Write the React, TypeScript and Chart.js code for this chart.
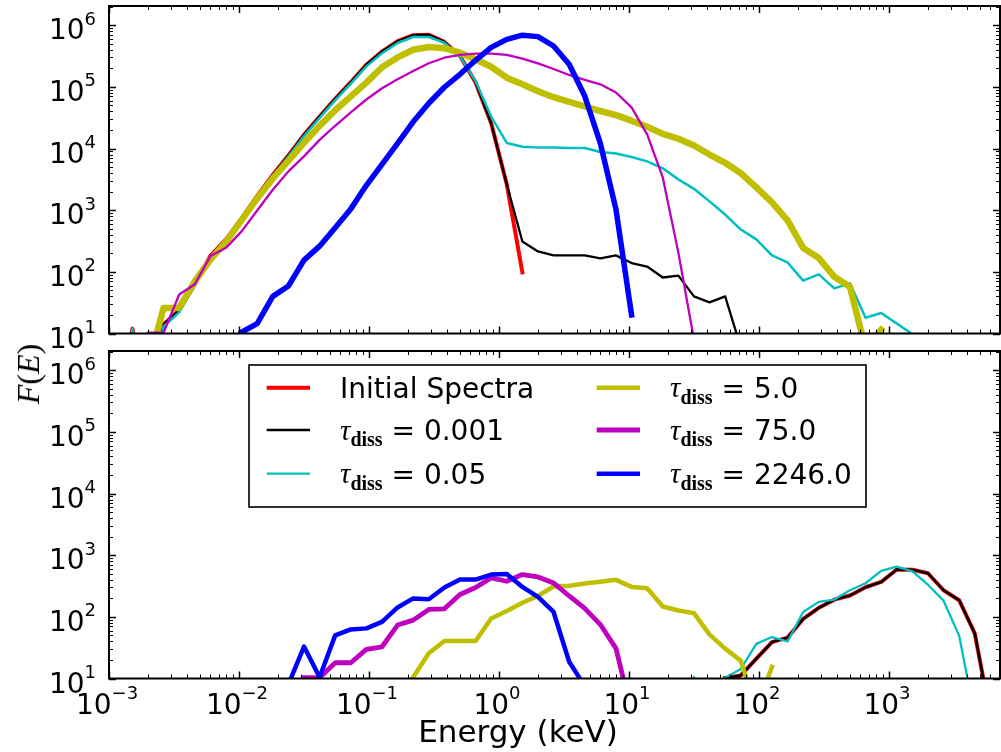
import React, { useEffect, useRef } from "react";
import { Chart, registerables } from "chart.js";

Chart.register(...registerables);

// Energy bins (keV), log-spaced grid
const ENERGY_KEV = [
  0.001148, 0.001514, 0.001995, 0.00263, 0.003467, 0.004571, 0.006026, 0.007943,
  0.01047, 0.0138, 0.0182, 0.02399, 0.03162, 0.04169, 0.05495, 0.07244, 0.0955,
  0.1259, 0.166, 0.2188, 0.2884, 0.3802, 0.5012, 0.6607, 0.871, 1.148, 1.514,
  1.995, 2.63, 3.467, 4.571, 6.026, 7.943, 10.47, 13.8, 18.2, 23.99, 31.62, 41.69,
  54.95, 72.44, 95.5, 125.9, 166.0, 218.8, 288.4, 380.2, 501.2, 660.7, 871.0,
  1148, 1514, 1995, 2630, 3467, 4571, 6026,
];

const _ = null;

// ---------- Upper panel ----------
const TOP_INITIAL = [
  0.5, 12, 0.5, 14, 24, 63, 182, 336, 736, 1706, 3740, 7740, 16700, 33000, 64000,
  119000, 229000, 374000, 550000, 690000, 700000, 537000, 317000, 118000, 25600,
  2630, 98, _, _, _, _, _, _, _, _, _, _, _, _, _, _, _, _, _, _, _, _, _, _, _, _,
  _, _, _, _, _, _,
];
const TOP_TAU_0001 = [
  0.5, 12, 0.5, 14, 24, 63, 182, 336, 736, 1706, 3740, 7740, 16700, 33000, 64000,
  119000, 229000, 374000, 550000, 690000, 700000, 537000, 317000, 118000, 25600,
  2630, 310, 214, 185, 185, 185, 165, 185, 139, 122, 81, 87, 40, 32, 40, 6, _, _, _,
  _, _, _, _, _, _, _, _, _, _, _, _, _,
];
const TOP_TAU_005 = [
  0.5, 12, 0.5, 13, 22, 60, 175, 325, 710, 1650, 3600, 7400, 16000, 31500, 61000,
  113000, 215000, 350000, 515000, 645000, 645000, 520000, 310000, 123000, 33000,
  12300, 10700, 10400, 10400, 10200, 10200, 8800, 8300, 7300, 6200, 4780, 3160,
  2220, 1390, 850, 486, 336, 185, 142, 72, 91, 54, 65, 18, 21.5, 14.5, 9.8, _, _, _,
  _, _,
];
const TOP_TAU_5 = [
  _, _, 3, 26, 26, 70, 158, 306, 690, 1550, 3280, 6300, 12400, 23300, 41700, 70000,
  117000, 208000, 300000, 400000, 444000, 424000, 358000, 281000, 212000, 141000,
  110000, 85000, 68000, 57000, 48400, 40600, 34800, 28300, 22500, 17300, 14400,
  11200, 8000, 5870, 3980, 2340, 1340, 682, 244, 168, 83, 57, 5.6, 11.5, _, _, _, _,
  _, _, _,
];
const TOP_TAU_75 = [
  _, _, 10.3, 10.3, 43, 63, 180, 245, 453, 990, 2140, 4260, 7470, 13800, 23400,
  38700, 62400, 94900, 133000, 181000, 242000, 297000, 330000, 347000, 347000,
  330000, 288000, 240000, 195000, 156000, 130000, 110000, 81000, 46500, 17000,
  3400, 205, 8, _, _, _, _, _, _, _, _, _, _, _, _, _, _, _, _, _, _, _,
];
const TOP_TAU_2246 = [
  _, _, _, _, _, _, _, _, 10.5, 14.5, 40, 59, 155, 261, 520, 1050, 2530, 5530, 12100,
  27100, 54200, 98600, 160000, 270000, 437000, 590000, 690000, 653000, 460000,
  233000, 71000, 12100, 1030, 20, _, _, _, _, _, _, _, _, _, _, _, _, _, _, _, _, _,
  _, _, _, _, _, _,
];

// ---------- Lower panel ----------
const BOT_INITIAL = [
  _, _, _, _, _, _, _, _, _, _, _, _, _, _, _, _, _, _, _, _, _, _, _, _, _, _, _, _,
  _, _, _, _, _, _, _, _, _, _, _, 10.2, 11.2, 21, 39, 46, 92.5, 140, 190, 222, 302,
  368, 585, 580, 509, 270, 186, 54, 2.5,
];
const BOT_TAU_0001 = [
  _, _, _, _, _, _, _, _, _, _, _, _, _, _, _, _, _, _, _, _, _, _, _, _, _, _, _, _,
  _, _, _, _, _, _, _, _, _, _, _, 10.2, 11.2, 21, 39, 46, 92.5, 140, 190, 222, 302,
  368, 585, 580, 509, 270, 186, 54, 2.5,
];
const BOT_TAU_005 = [
  _, _, _, _, _, _, _, _, _, _, _, _, _, _, _, _, _, _, _, _, _, _, _, _, _, _, _, _,
  _, _, _, _, _, _, _, _, 1, 10.5, 1, 10.3, 14.3, 36.4, 47, 39.8, 120, 175, 191, 270,
  351, 555, 653, 545, 332, 183, 49.6, 2.5, _,
];
const BOT_TAU_5 = [
  _, _, _, _, _, _, _, _, _, _, _, _, _, _, _, _, _, _, _, 10.5, 25.6, 40.5, 40.5,
  40.5, 94, 124, 169, 219, 310, 320, 347, 372, 398, 306, 291, 147, 127, 115, 51.5,
  30.5, 19.5, 3.1, 15.5, _, _, _, _, _, _, _, _, _, _, _, _, _, _,
];
const BOT_TAU_75 = [
  _, _, _, _, _, _, _, _, _, _, _, _, 10.3, 10.3, 18, 18, 29.6, 32.7, 73.5, 88.5, 132,
  135, 230, 299, 428, 378, 485, 444, 355, 218, 137, 75, 30.8, 2.8, _, _, _, _, _, _,
  _, _, _, _, _, _, _, _, _, _, _, _, _, _, _, _, _,
];
const BOT_TAU_2246 = [
  _, _, _, _, _, _, _, _, _, _, _, 8, 33, 10.5, 50, 62.5, 65, 83, 142, 199, 193, 299,
  403, 403, 485, 497, 306, 211, 120, 18.7, 7.5, _, _, _, _, _, _, _, _, _, _, _, _,
  _, _, _, _, _, _, _, _, _, _, _, _, _, _,
];

const TAU_VALUES = [null, "0.001", "0.05", "5.0", "75.0", "2246.0"];
const SERIES_LABELS = [
  "Initial Spectra",
  "τdiss = 0.001",
  "τdiss = 0.05",
  "τdiss = 5.0",
  "τdiss = 75.0",
  "τdiss = 2246.0",
];
const COLORS = ["#ff0000", "#000000", "#00bfbf", "#bfbf00", "#bf00bf", "#0000ff"];
const TOP_WIDTHS = [4, 2.3, 2.5, 6.5, 2.3, 5.5];
const BOT_WIDTHS = [4, 2.5, 2.3, 4.5, 4.8, 4.5];

const X_MIN = 1e-3;
const X_MAX = 7150;
const Y_MIN = 10;
const Y_MAX = 2.05e6;
const X_MAJOR_EXP = [-3, -2, -1, 0, 1, 2, 3];
const Y_MAJOR_EXP = [1, 2, 3, 4, 5, 6];

const FONT = '"DejaVu Sans", sans-serif';
const SERIF = '"Liberation Serif", "DejaVu Serif", serif';

function toPoints(arr: (number | null)[]) {
  const pts: { x: number; y: number }[] = [];
  arr.forEach((v, i) => {
    if (v !== null) pts.push({ x: ENERGY_KEV[i], y: v });
  });
  return pts;
}

function drawPow(ctx: CanvasRenderingContext2D, exp: number, x: number, base: number, align: string) {
  const main = "10";
  const sup = exp < 0 ? "\u2212" + Math.abs(exp) : String(exp);
  ctx.font = `28px ${FONT}`;
  const w1 = ctx.measureText(main).width;
  ctx.font = `18px ${FONT}`;
  const w2 = ctx.measureText(sup).width;
  const total = w1 + w2;
  const left = align === "right" ? x - total : x - total / 2;
  ctx.textAlign = "left";
  ctx.textBaseline = "alphabetic";
  ctx.fillStyle = "#000";
  ctx.font = `28px ${FONT}`;
  ctx.fillText(main, left, base);
  ctx.font = `18px ${FONT}`;
  ctx.fillText(sup, left + w1, base - 14.5);
}

const framePlugin = {
  id: "mplFrame",
  afterDatasetsDraw(chart: any, _args: any, opts: any) {
    const ctx: CanvasRenderingContext2D = chart.ctx;
    const a = chart.chartArea;
    const xs = chart.scales.x;
    const ys = chart.scales.y;
    ctx.save();
    ctx.strokeStyle = "#000";
    // x ticks (top & bottom, inward)
    for (const e of X_MAJOR_EXP) {
      for (let m = 1; m <= 9; m++) {
        const v = m * Math.pow(10, e);
        if (v < X_MIN * 0.999 || v > X_MAX) continue;
        const px = Math.round(xs.getPixelForValue(v)) + 0.5;
        const len = m === 1 ? 7 : 4;
        ctx.lineWidth = m === 1 ? 1.5 : 1;
        ctx.beginPath();
        ctx.moveTo(px, a.bottom);
        ctx.lineTo(px, a.bottom - len);
        ctx.moveTo(px, a.top);
        ctx.lineTo(px, a.top + len);
        ctx.stroke();
      }
    }
    // y ticks (left & right, inward)
    for (const e of Y_MAJOR_EXP) {
      for (let m = 1; m <= 9; m++) {
        const v = m * Math.pow(10, e);
        if (v < Y_MIN * 0.999 || v > Y_MAX) continue;
        const py = Math.round(ys.getPixelForValue(v)) + 0.5;
        const len = m === 1 ? 7 : 4;
        ctx.lineWidth = m === 1 ? 1.5 : 1;
        ctx.beginPath();
        ctx.moveTo(a.left, py);
        ctx.lineTo(a.left + len, py);
        ctx.moveTo(a.right, py);
        ctx.lineTo(a.right - len, py);
        ctx.stroke();
      }
    }
    // frame
    ctx.lineWidth = 2;
    ctx.strokeRect(a.left, a.top, a.right - a.left, a.bottom - a.top);

    // y tick labels
    for (const e of Y_MAJOR_EXP) {
      const py = ys.getPixelForValue(Math.pow(10, e));
      drawPow(ctx, e, a.left - 13, py + 14, "right");
    }
    if (opts.xLabels) {
      for (const e of X_MAJOR_EXP) {
        const px = xs.getPixelForValue(Math.pow(10, e));
        drawPow(ctx, e, px - 2, a.bottom + 35, "center");
      }
      ctx.font = `31px ${FONT}`;
      ctx.textAlign = "center";
      ctx.textBaseline = "alphabetic";
      ctx.fillStyle = "#000";
      ctx.fillText("Energy (keV)", 518, a.bottom + 63);
    }
    if (opts.legend) {
      const bx = a.left + 140;
      const by = a.top + 14;
      const bw = 617;
      const bh = 142;
      ctx.fillStyle = "#fff";
      ctx.fillRect(bx, by, bw, bh);
      ctx.lineWidth = 1.6;
      ctx.strokeStyle = "#000";
      ctx.strokeRect(bx, by, bw, bh);
      const rows = [a.top + 36.7, a.top + 79, a.top + 122.7];
      const cols = [a.left + 157.7, a.left + 487.7];
      chart.data.datasets.forEach((ds: any, i: number) => {
        const col = cols[Math.floor(i / 3)];
        const ry = rows[i % 3];
        ctx.strokeStyle = ds.borderColor;
        ctx.lineWidth = ds.borderWidth;
        ctx.lineCap = "butt";
        ctx.beginPath();
        ctx.moveTo(col, ry);
        ctx.lineTo(col + 43.3, ry);
        ctx.stroke();
        const tx = col + 73.3;
        ctx.fillStyle = "#000";
        ctx.textAlign = "left";
        ctx.textBaseline = "alphabetic";
        const tau = TAU_VALUES[i];
        if (tau === null) {
          ctx.font = `28px ${FONT}`;
          ctx.fillText(ds.label, tx, ry + 10.3);
        } else {
          ctx.font = `italic 29px ${SERIF}`;
          ctx.fillText("τ", tx, ry + 9.5);
          const wt = ctx.measureText("τ").width;
          ctx.font = `bold 20px ${SERIF}`;
          ctx.fillText("diss", tx + wt, ry + 16);
          const wd = ctx.measureText("diss").width;
          ctx.font = `28px ${FONT}`;
          ctx.fillText(" = " + tau, tx + wt + wd, ry + 10.3);
        }
      });
    }
    ctx.restore();
  },
};

function makeConfig(series: (number | null)[][], widths: number[], padBottom: number, opts: any) {
  return {
    type: "line",
    data: {
      datasets: series.map((s, i) => ({
        label: SERIES_LABELS[i],
        data: toPoints(s),
        borderColor: COLORS[i],
        backgroundColor: COLORS[i],
        borderWidth: widths[i],
        pointRadius: 0,
        tension: 0,
        fill: false,
        borderJoinStyle: "round",
        borderCapStyle: "square",
        clip: 0,
        order: 6 - i,
      })),
    },
    options: {
      responsive: false,
      animation: false,
      devicePixelRatio: 1,
      events: [],
      layout: { padding: { left: 109, right: 1, top: 6, bottom: padBottom } },
      plugins: { legend: { display: false }, tooltip: { enabled: false }, mplFrame: opts },
      scales: {
        x: { type: "logarithmic", min: X_MIN, max: X_MAX, display: false },
        y: { type: "logarithmic", min: Y_MIN, max: Y_MAX, display: false },
      },
    },
    plugins: [framePlugin],
  } as any;
}

export default function App() {
  const topRef = useRef<HTMLCanvasElement>(null);
  const botRef = useRef<HTMLCanvasElement>(null);

  useEffect(() => {
    const top = new Chart(
      topRef.current as HTMLCanvasElement,
      makeConfig(
        [TOP_INITIAL, TOP_TAU_0001, TOP_TAU_005, TOP_TAU_5, TOP_TAU_75, TOP_TAU_2246],
        TOP_WIDTHS,
        18.5,
        { xLabels: false, legend: false }
      )
    );
    const bot = new Chart(
      botRef.current as HTMLCanvasElement,
      makeConfig(
        [BOT_INITIAL, BOT_TAU_0001, BOT_TAU_005, BOT_TAU_5, BOT_TAU_75, BOT_TAU_2246],
        BOT_WIDTHS,
        73.5,
        { xLabels: true, legend: true }
      )
    );
    return () => {
      top.destroy();
      bot.destroy();
    };
  }, []);

  return (
    <div
      style={{
        position: "fixed",
        left: 0,
        top: 0,
        width: 1001,
        height: 752,
        background: "#fff",
        overflow: "hidden",
      }}
    >
      <canvas
        ref={topRef}
        width={1001}
        height={352}
        style={{ position: "absolute", left: 0, top: 0, width: 1001, height: 352 }}
      />
      <canvas
        ref={botRef}
        width={1001}
        height={407}
        style={{ position: "absolute", left: 0, top: 345, width: 1001, height: 407 }}
      />
      <div
        style={{
          position: "absolute",
          left: 27.5,
          top: 374,
          transform: "translate(-50%, -50%) rotate(-90deg)",
          font: `32px ${SERIF}`,
          lineHeight: 1,
          whiteSpace: "nowrap",
          color: "#000",
        }}
      >
        <i>F</i>(<i>E</i>)
      </div>
    </div>
  );
}
